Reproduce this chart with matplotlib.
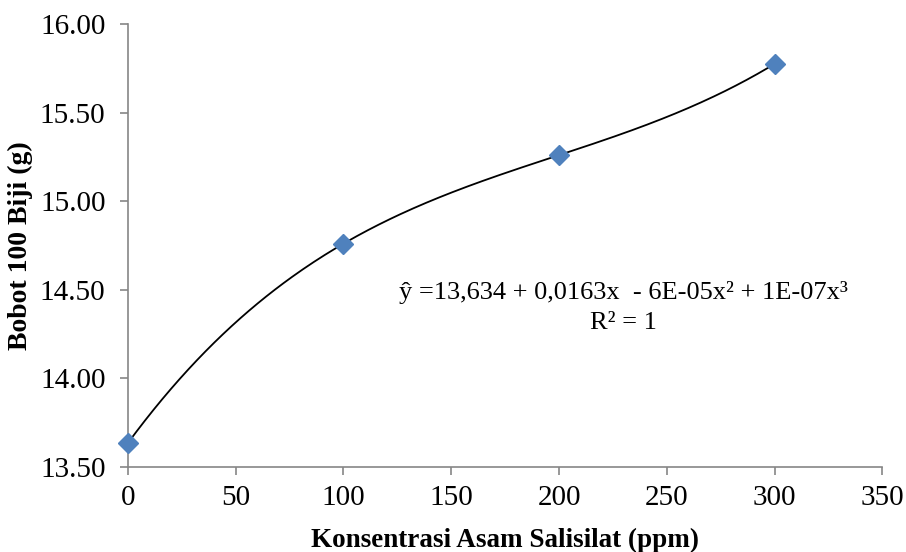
import numpy as np
import matplotlib
matplotlib.use("Agg")
import matplotlib.pyplot as plt

plt.rcParams['font.family'] = ['Liberation Serif', 'DejaVu Serif']

# data
konsentrasi = [0, 100, 200, 300]
bobot = [13.634, 14.76, 15.26, 15.775]
x_ticks = [0, 50, 100, 150, 200, 250, 300, 350]
y_ticks = [13.50, 14.00, 14.50, 15.00, 15.50, 16.00]
persamaan = "ŷ =13,634 + 0,0163x  - 6E-05x² + 1E-07x³\nR² = 1"

fig = plt.figure(figsize=(9.06, 5.52), dpi=100)
ax = fig.add_axes([0.141, 0.154, 0.833, 0.8025])

# cubic trend line through the points
coef = np.polyfit(konsentrasi, bobot, 3)
xs = np.linspace(0, 300, 300)
ax.plot(xs, np.polyval(coef, xs), color='black', lw=1.3, zorder=2)
ax.plot(konsentrasi, bobot, linestyle='none', marker='D', markersize=10.5,
        color='#4F81BD', zorder=3, clip_on=False)

ax.set_xlim(0, 350)
ax.set_ylim(13.5, 16.0)
ax.set_xticks(x_ticks)
ax.set_yticks(y_ticks)
ax.set_yticklabels(["%.2f" % v for v in y_ticks])

for s in ['top', 'right']:
    ax.spines[s].set_visible(False)
for s in ['left', 'bottom']:
    ax.spines[s].set_color('#868686')
    ax.spines[s].set_linewidth(1.2)
ax.tick_params(axis='both', colors='#868686', labelcolor='black',
               labelsize=21, length=6, width=1.2, direction='out')
ax.tick_params(axis='y', pad=10)
ax.tick_params(axis='x', pad=7)

ax.set_xlabel("Konsentrasi Asam Salisilat (ppm)", fontsize=19.5,
              fontweight='bold', labelpad=12)
ax.set_ylabel("Bobot 100 Biji (g)", fontsize=20, fontweight='bold',
              labelpad=5)

ax.text(230, 14.40, persamaan, ha='center', va='center', fontsize=19,
        linespacing=1.45)

fig.savefig("out.png", dpi=100)
